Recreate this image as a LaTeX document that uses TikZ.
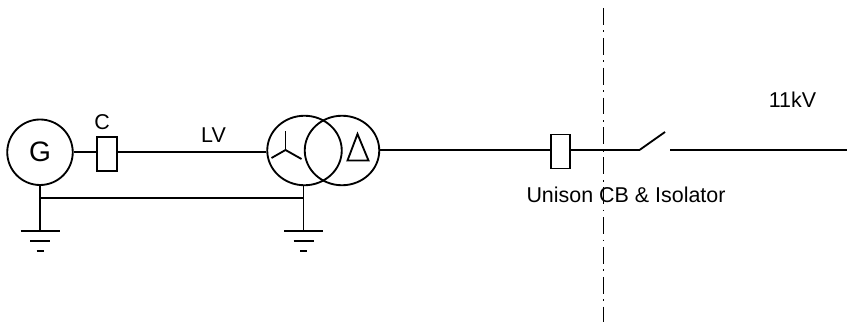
\documentclass[tikz,border=0pt]{standalone}
\usepackage{fontspec}
\setmainfont{Liberation Sans}
\usetikzlibrary{shapes.geometric}

\begin{document}
\begin{tikzpicture}[line width=1.05pt,
    label/.style={inner sep=0pt,font=\fontsize{12.2}{14}\selectfont},
    breaker/.style={shape=rectangle,draw=black,minimum width=0.39cm,minimum height=0.68cm,inner sep=0pt},
    winding/.style={shape=ellipse,draw=black,minimum width=1.49cm,minimum height=1.39cm,inner sep=0pt}]
        \useasboundingbox (0,0) rectangle (16.94,6.44);

        \node[shape=circle,draw=black,minimum size=1.31cm,inner sep=0pt,font=\fontsize{16}{18}\selectfont] (G) at (0.80,3.395) {\raisebox{1pt}{G}};
        \node[breaker] (C) at (2.14,3.36) {};
        \node[winding] (T1) at (6.09,3.43) {};
        \node[winding] (T2) at (6.84,3.43) {};
        \node[breaker] (CB) at (11.21,3.41) {};

        \node[label] (Clabel) at (2.04,4.00) {C};
        \node[label] (LV) at (4.27,3.73) {LV};
        \node[label] (HV) at (15.85,4.45) {11kV};
        \node[label] (CBlabel) at (12.52,2.54) {Unison CB \& Isolator};

        \coordinate (SW1) at (12.79,3.44);
        \coordinate (SW2) at (13.30,3.80);
        \coordinate (SW3) at (13.40,3.44);
        \coordinate (OUT) at (16.94,3.44);
        \coordinate (Top) at (12.07,6.28);
        \coordinate (Bot) at (12.07,0);

        % main line
        \path [-,draw] (G.east) edge (G.east -| C.west);
        \path [-,draw] (G.east -| C.east) edge (G.east -| T1.west);
        \path [-,draw] (T2.east |- SW1) edge (SW1 -| CB.west);
        \path [-,draw] (CB.east |- SW1) edge (SW1);
        \path [-,draw] (SW1) edge (SW2);
        \path [-,draw] (SW3) edge (OUT);

        % earth connections
        \coordinate (Ea) at (0.80,1.82);
        \coordinate (Eb) at (6.07,1.82);
        \coordinate (Ba) at (0.80,2.475);
        \coordinate (Bb) at (6.07,2.475);
        \path [-,draw] (G.south) edge (Ea);
        \path [-,draw] (T1.south -| Eb) edge (Eb);
        \path [-,draw] (Ba) edge (Bb);
        \foreach \e in {Ea,Eb} {
            \draw ([xshift=-0.39cm]\e) -- ([xshift=0.39cm]\e);
            \draw ([xshift=-0.20cm,yshift=-0.20cm]\e) -- ([xshift=0.20cm,yshift=-0.20cm]\e);
            \draw ([xshift=-0.07cm,yshift=-0.40cm]\e) -- ([xshift=0.07cm,yshift=-0.40cm]\e);
        }

        % winding symbols
        \coordinate (Y) at (5.71,3.44);
        \draw (Y) -- (5.71,3.81);
        \draw (Y) -- (5.43,3.28);
        \draw (Y) -- (6.03,3.26);
        \draw (7.15,3.76) -- (6.95,3.23) -- (7.37,3.23) -- cycle;

        % boundary
        \draw [line width=1pt,dash pattern=on 9.6pt off 3.2pt on 1pt off 3.2pt] (Top) -- (Bot);
\end{tikzpicture}
\end{document}
